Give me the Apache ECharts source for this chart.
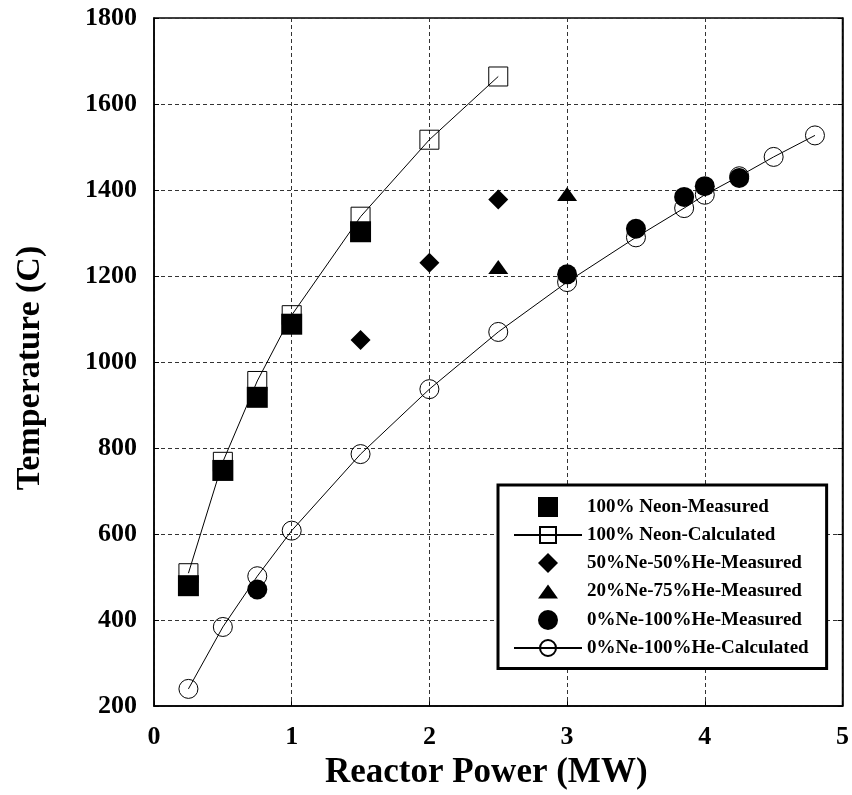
<!DOCTYPE html>
<html>
<head>
<meta charset="utf-8">
<script src="https://cdn.jsdelivr.net/npm/echarts@6/dist/echarts.min.js"></script>
<style>
  html, body { margin: 0; padding: 0; background: #fff; }
  #chart { width: 852px; height: 795px; }
</style>
</head>
<body>
<div id="chart"></div>
<script>
// readings taken off the original figure
const neonMeasured = [[0.25, 480], [0.5, 748], [0.75, 918], [1.0, 1088], [1.5, 1303]];
const neonCalc = [[0.25, 509], [0.5, 768], [0.75, 956], [1.0, 1109], [1.5, 1338], [2.0, 1517], [2.5, 1664]];
const ne50Measured = [[1.5, 1051], [2.0, 1231], [2.5, 1378]];
const ne20Measured = [[2.5, 1221], [3.0, 1391]];
const heMeasured = [[0.75, 471], [3.0, 1204], [3.5, 1310], [3.85, 1384], [4.0, 1409], [4.25, 1428]];
const heCalc = [[0.25, 240], [0.5, 384], [0.75, 502], [1.0, 608], [1.5, 786], [2.0, 937], [2.5, 1070],
  [3.0, 1186], [3.5, 1290], [3.85, 1358], [4.0, 1389], [4.25, 1432], [4.5, 1477], [4.8, 1527]];
const names = ['100% Neon-Measured', '100% Neon-Calculated', '50%Ne-50%He-Measured',
  '20%Ne-75%He-Measured', '0%Ne-100%He-Measured', '0%Ne-100%He-Calculated'];

const font = 'Liberation Serif';
var chart = echarts.init(document.getElementById('chart'));

const openStyle = { color: 'rgba(0,0,0,0)', borderColor: '#000', borderWidth: 1 };
const solid = { color: '#000', opacity: 1 };
const grid = { lineStyle: { color: '#333', type: [4, 3], width: 1 } };
const tick = { inside: true, length: 5, lineStyle: { color: '#000' } };
const labelFont = { fontFamily: font, fontWeight: 'bold', fontSize: 26, color: '#000' };

// legend icons (paths keep their aspect; extra moveTo's pad the triangle box)
const sq = 'path://M0,0H10V10H0Z';
const dia = 'path://M5,0L10,5L5,10L0,5Z';
const tri = 'path://M5,1.5L10,8.5L0,8.5ZM0,0M10,10';
const dot = 'path://M5,0A5,5,0,1,1,4.99,0Z';

chart.setOption({
  animation: false,
  grid: { left: 154, right: 9, top: 18, bottom: 88, show: true, borderColor: '#000', borderWidth: 1.5 },
  xAxis: {
    type: 'value', min: 0, max: 5, interval: 1,
    name: 'Reactor Power (MW)', nameLocation: 'middle', nameGap: 48,
    nameTextStyle: { fontFamily: font, fontWeight: 'bold', fontSize: 35, color: '#000', padding: [0, 24, 0, 0] },
    axisLine: { lineStyle: { color: '#000', width: 1.5 } },
    axisTick: tick,
    axisLabel: Object.assign({ margin: 18 }, labelFont),
    splitLine: grid
  },
  yAxis: [{
    type: 'value', min: 200, max: 1800, interval: 200,
    name: 'Temperature (C)', nameLocation: 'middle', nameGap: 107,
    nameTextStyle: { fontFamily: font, fontWeight: 'bold', fontSize: 34, color: '#000', padding: [0, 12, 0, 0] },
    axisLine: { lineStyle: { color: '#000', width: 1.5 } },
    axisTick: tick,
    axisLabel: Object.assign({ margin: 17, formatter: v => String(v) }, labelFont),
    splitLine: grid
  }, {
    type: 'value', min: 200, max: 1800, interval: 200, position: 'right',
    axisLine: { show: true, lineStyle: { color: '#000', width: 1.5 } },
    axisTick: tick, axisLabel: { show: false }, splitLine: { show: false }
  }],
  legend: {
    orient: 'vertical', left: 498, top: 485,
    padding: [12, 18, 11, 15],
    itemGap: 8.5, itemWidth: 68, itemHeight: 20,
    borderColor: '#000', borderWidth: 3, backgroundColor: '#fff',
    textStyle: { fontFamily: font, fontWeight: 'bold', fontSize: 19, color: '#000' },
    data: [
      { name: names[0], icon: sq },
      { name: names[1] },
      { name: names[2], icon: dia },
      { name: names[3], icon: tri },
      { name: names[4], icon: dot },
      { name: names[5] }
    ]
  },
  series: [
    {
      name: names[1], type: 'line', data: neonCalc, symbol: 'rect', symbolSize: 19,
      itemStyle: openStyle, lineStyle: { color: '#000', width: 1 }, z: 2
    },
    {
      name: names[5], type: 'line', data: heCalc, symbol: 'circle', symbolSize: 19,
      itemStyle: openStyle, lineStyle: { color: '#000', width: 1 }, z: 2
    },
    { name: names[0], type: 'scatter', data: neonMeasured, symbol: 'rect', symbolSize: 21, itemStyle: solid, z: 3 },
    { name: names[2], type: 'scatter', data: ne50Measured, symbol: 'diamond', symbolSize: 20, itemStyle: solid, z: 3 },
    { name: names[3], type: 'scatter', data: ne20Measured, symbol: 'triangle', symbolSize: [20, 14], itemStyle: solid, z: 3 },
    { name: names[4], type: 'scatter', data: heMeasured, symbol: 'circle', symbolSize: 20, itemStyle: solid, z: 3 }
  ]
});
</script>
</body>
</html>
